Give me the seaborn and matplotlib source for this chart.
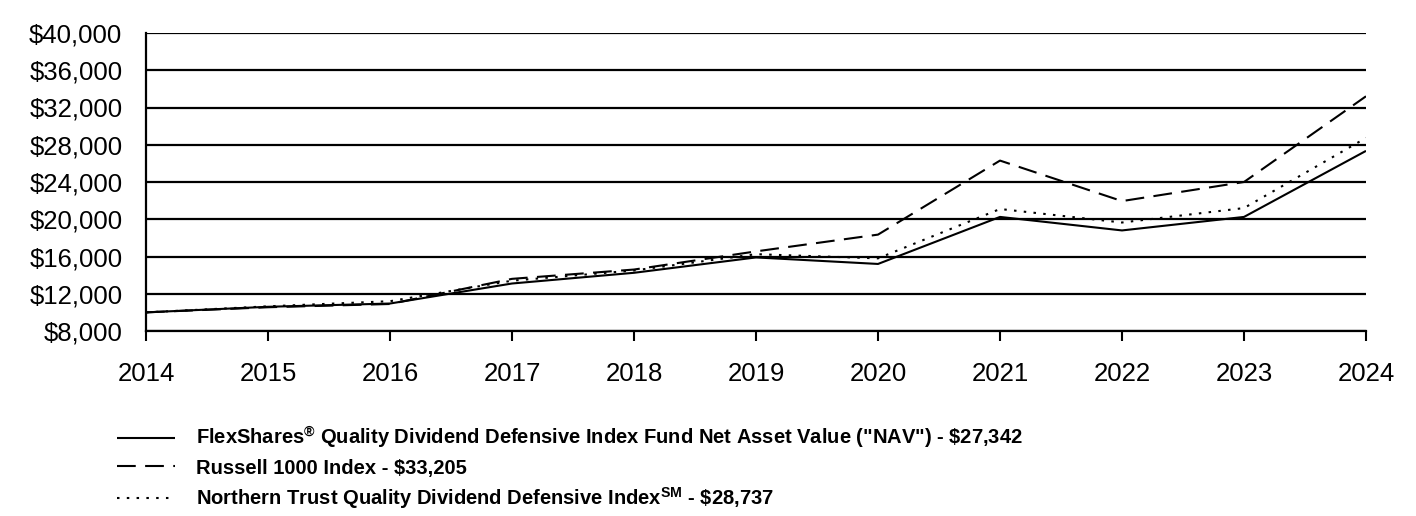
import matplotlib
matplotlib.use("Agg")
import matplotlib.pyplot as plt
import seaborn as sns
import pandas as pd
from matplotlib.lines import Line2D
from matplotlib.ticker import FuncFormatter

years = [2014, 2015, 2016, 2017, 2018, 2019, 2020, 2021, 2022, 2023, 2024]
nav = [10000, 10600, 10950, 13100, 14250, 15900, 15200, 20250, 18800, 20250, 27342]
russell = [10000, 10550, 10900, 13600, 14600, 16550, 18350, 26300, 21950, 24000, 33205]
northern = [10000, 10650, 11200, 13400, 14500, 16250, 15800, 21100, 19650, 21200, 28737]

labels = [
    'FlexShares$^{\\mathbf{\u00ae}}$ Quality Dividend Defensive Index Fund Net Asset Value ("NAV") - \\$27,342',
    "Russell 1000 Index - $33,205",
    "Northern Trust Quality Dividend Defensive Index$^{\\mathbf{SM}}$ - \\$28,737",
]
y_ticks = list(range(8000, 40001, 4000))

sns.set_theme(style="white")
plt.rcParams["font.family"] = ["Liberation Sans", "DejaVu Sans"]
plt.rcParams["mathtext.fontset"] = "custom"
plt.rcParams["mathtext.rm"] = "Liberation Sans"
plt.rcParams["mathtext.bf"] = "Liberation Sans:bold"
plt.rcParams["text.color"] = "black"
plt.rcParams["xtick.color"] = "black"
plt.rcParams["ytick.color"] = "black"

df = pd.DataFrame({"year": years * 3,
                   "value": nav + russell + northern,
                   "series": ["nav"] * 11 + ["russell"] * 11 + ["northern"] * 11})

fig = plt.figure(figsize=(14.16, 5.16), dpi=100)
ax = fig.add_axes([146 / 1416, 1 - 331 / 516, 1220 / 1416, 298 / 516])

styles = {"nav": (0, ()), "russell": (0, (9, 4.5)), "northern": (0, (1.2, 3.5))}
for key in ["nav", "russell", "northern"]:
    sub = df[df.series == key]
    sns.lineplot(data=sub, x="year", y="value", ax=ax, color="black", lw=1.5,
                 linestyle=styles[key], legend=False)

ax.set_xlim(2014, 2024)
ax.set_ylim(8000, 40000)
ax.set_xticks(years)
ax.set_yticks(y_ticks)
ax.yaxis.set_major_formatter(FuncFormatter(lambda v, p: f"${int(v):,}"))
ax.grid(axis="y", color="black", lw=1.6)
ax.grid(axis="x", visible=False)
for s in ["top", "right"]:
    ax.spines[s].set_visible(False)
for s in ["left", "bottom"]:
    ax.spines[s].set_color("black")
    ax.spines[s].set_linewidth(1.6)
ax.tick_params(axis="x", direction="out", length=7, width=1.5, color="black",
               labelcolor="black", labelsize=18.5, pad=15, bottom=True)
ax.tick_params(axis="y", length=0, labelsize=18.5, labelcolor="black", pad=17, left=False)
ax.set_xlabel("")
ax.set_ylabel("")

handles = [Line2D([0], [0], color="black", lw=1.5, linestyle=styles[k])
           for k in ["nav", "russell", "northern"]]
leg = fig.legend(handles, labels, loc="upper left", bbox_to_anchor=(117 / 1416, 1 - 425 / 516),
                 frameon=False, handlelength=2.9, handletextpad=1.0, labelspacing=0.37,
                 borderpad=0, borderaxespad=0,
                 prop={"weight": "bold", "size": 14.5, "family": ["Liberation Sans", "DejaVu Sans"]})
for t in leg.get_texts():
    t.set_color("black")

fig.savefig("out.png", dpi=100)
